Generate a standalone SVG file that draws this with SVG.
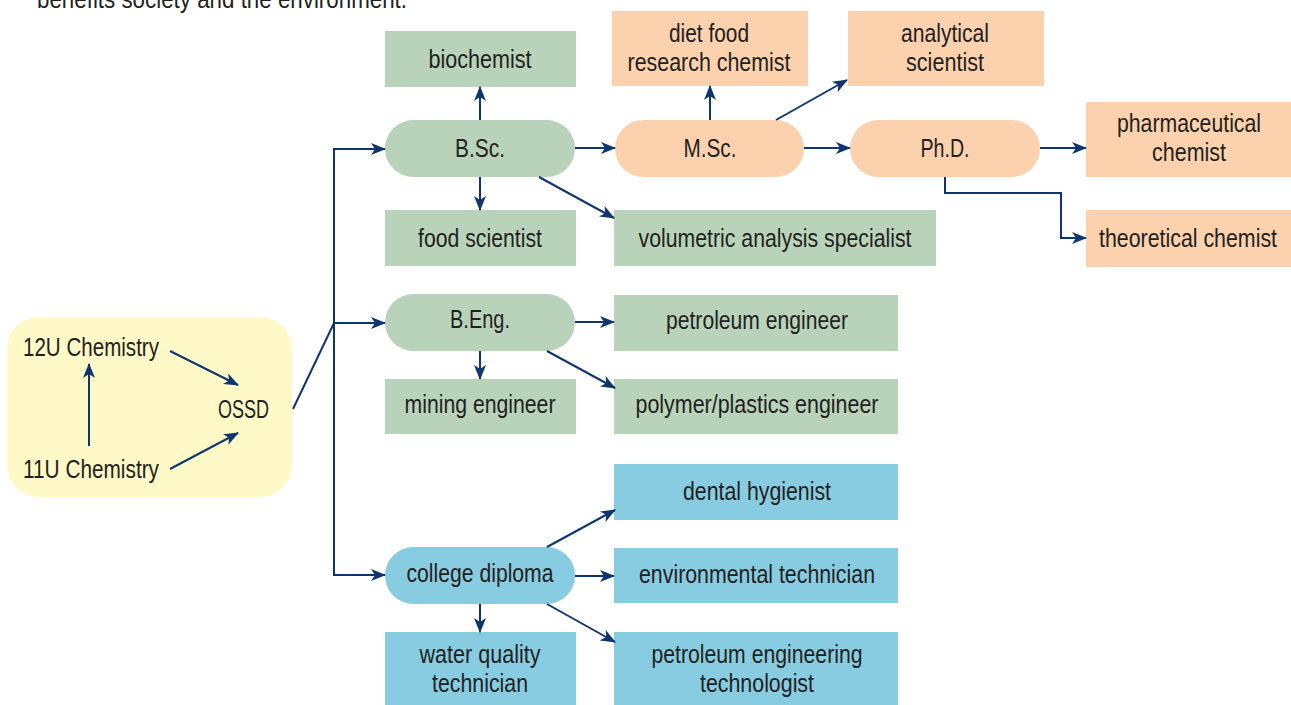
<svg xmlns="http://www.w3.org/2000/svg" width="1291" height="705" viewBox="0 0 1291 705">
<defs>
<style>
text{font-family:"Liberation Sans",Arial,sans-serif;font-size:25px;fill:#231f20;}
.m{text-anchor:middle;}
.g{fill:#b9d3bb;}
.p{fill:#fcd1ad;}
.b{fill:#88cce2;}
.y{fill:#fef9c6;}
.c{fill:none;stroke:#0e3570;stroke-width:2;}
.a{marker-end:url(#ah);}
</style>
<marker id="ah" markerUnits="userSpaceOnUse" markerWidth="15" markerHeight="12" refX="14" refY="6" orient="auto" viewBox="0 0 15 12">
<path d="M0,0 L15,6 L0,12 L4,6 z" fill="#0e3570"/>
</marker>
</defs>
<rect width="1291" height="705" fill="#ffffff"/>
<text x="37" y="8" textLength="370" lengthAdjust="spacingAndGlyphs">benefits society and the environment.</text>

<g id="highschool">
<rect class="y" x="7" y="317" width="285" height="180" rx="32"/>
<text x="23" y="356" textLength="136" lengthAdjust="spacingAndGlyphs">12U Chemistry</text>
<text x="23" y="478" textLength="136" lengthAdjust="spacingAndGlyphs">11U Chemistry</text>
<text x="218" y="418" textLength="51" lengthAdjust="spacingAndGlyphs">OSSD</text>
</g>

<g id="bsc"><rect class="g" x="385" y="120" width="190" height="57" rx="28.5"/><text class="m" x="480" y="157" textLength="50" lengthAdjust="spacingAndGlyphs">B.Sc.</text></g>
<g id="biochemist"><rect class="g" x="385" y="31" width="191" height="56"/><text class="m" x="480" y="68" textLength="103" lengthAdjust="spacingAndGlyphs">biochemist</text></g>
<g id="foodscientist"><rect class="g" x="385" y="210" width="191" height="56"/><text class="m" x="480" y="247" textLength="124" lengthAdjust="spacingAndGlyphs">food scientist</text></g>
<g id="volumetric"><rect class="g" x="614" y="210" width="322" height="56"/><text class="m" x="775" y="247" textLength="273" lengthAdjust="spacingAndGlyphs">volumetric analysis specialist</text></g>

<g id="msc"><rect class="p" x="615" y="120" width="189" height="57" rx="28.5"/><text class="m" x="710" y="157" textLength="53" lengthAdjust="spacingAndGlyphs">M.Sc.</text></g>
<g id="dietfood"><rect class="p" x="612" y="11" width="196" height="75"/><text class="m" x="709" y="42" textLength="80" lengthAdjust="spacingAndGlyphs">diet food</text><text class="m" x="709" y="71" textLength="163" lengthAdjust="spacingAndGlyphs">research chemist</text></g>
<g id="analytical"><rect class="p" x="848" y="11" width="196" height="75"/><text class="m" x="945" y="42" textLength="88" lengthAdjust="spacingAndGlyphs">analytical</text><text class="m" x="945" y="71" textLength="78" lengthAdjust="spacingAndGlyphs">scientist</text></g>
<g id="phd"><rect class="p" x="850" y="120" width="190" height="57" rx="28.5"/><text class="m" x="945" y="157" textLength="49" lengthAdjust="spacingAndGlyphs">Ph.D.</text></g>
<g id="pharmaceutical"><rect class="p" x="1086" y="102" width="205" height="75"/><text class="m" x="1189" y="132" textLength="144" lengthAdjust="spacingAndGlyphs">pharmaceutical</text><text class="m" x="1189" y="161" textLength="74" lengthAdjust="spacingAndGlyphs">chemist</text></g>
<g id="theoretical"><rect class="p" x="1086" y="210" width="205" height="57"/><text class="m" x="1188" y="247" textLength="178" lengthAdjust="spacingAndGlyphs">theoretical chemist</text></g>

<g id="beng"><rect class="g" x="385" y="294" width="190" height="57" rx="28.5"/><text class="m" x="480" y="328" textLength="60" lengthAdjust="spacingAndGlyphs">B.Eng.</text></g>
<g id="petroleum"><rect class="g" x="614" y="295" width="284" height="56"/><text class="m" x="757" y="329" textLength="182" lengthAdjust="spacingAndGlyphs">petroleum engineer</text></g>
<g id="mining"><rect class="g" x="385" y="379" width="191" height="55"/><text class="m" x="480" y="413" textLength="151" lengthAdjust="spacingAndGlyphs">mining engineer</text></g>
<g id="polymer"><rect class="g" x="614" y="379" width="284" height="55"/><text class="m" x="757" y="413" textLength="243" lengthAdjust="spacingAndGlyphs">polymer/plastics engineer</text></g>

<g id="college"><rect class="b" x="385" y="547" width="190" height="57" rx="28.5"/><text class="m" x="480" y="582" textLength="147" lengthAdjust="spacingAndGlyphs">college diploma</text></g>
<g id="dental"><rect class="b" x="614" y="464" width="284" height="56"/><text class="m" x="757" y="500" textLength="148" lengthAdjust="spacingAndGlyphs">dental hygienist</text></g>
<g id="environmental"><rect class="b" x="614" y="548" width="284" height="55"/><text class="m" x="757" y="583" textLength="236" lengthAdjust="spacingAndGlyphs">environmental technician</text></g>
<g id="water"><rect class="b" x="385" y="632" width="191" height="73"/><text class="m" x="480" y="663" textLength="121" lengthAdjust="spacingAndGlyphs">water quality</text><text class="m" x="480" y="692" textLength="96" lengthAdjust="spacingAndGlyphs">technician</text></g>
<g id="technologist"><rect class="b" x="614" y="632" width="284" height="73"/><text class="m" x="757" y="663" textLength="211" lengthAdjust="spacingAndGlyphs">petroleum engineering</text><text class="m" x="757" y="692" textLength="114" lengthAdjust="spacingAndGlyphs">technologist</text></g>

<g id="connectors">
<line class="c a" x1="170" y1="351" x2="238" y2="385"/>
<line class="c a" x1="170" y1="469" x2="238" y2="433"/>
<line class="c a" x1="89" y1="446" x2="89" y2="364"/>
<polyline class="c" points="293,409 334,323"/>
<line class="c" x1="334" y1="148" x2="334" y2="576"/>
<line class="c a" x1="334" y1="149" x2="385" y2="149"/>
<line class="c a" x1="334" y1="323" x2="385" y2="323"/>
<line class="c a" x1="334" y1="575" x2="385" y2="575"/>
<line class="c a" x1="480" y1="120" x2="480" y2="87"/>
<line class="c a" x1="480" y1="177" x2="480" y2="210"/>
<line class="c a" x1="575" y1="148" x2="615" y2="148"/>
<line class="c a" x1="539" y1="177" x2="614" y2="218"/>
<line class="c a" x1="710" y1="120" x2="710" y2="86"/>
<line class="c a" x1="776" y1="120" x2="847" y2="80"/>
<line class="c a" x1="804" y1="148" x2="850" y2="148"/>
<line class="c a" x1="1040" y1="148" x2="1086" y2="148"/>
<polyline class="c a" points="945,177 945,193 1061,193 1061,238 1086,238"/>
<line class="c a" x1="575" y1="322" x2="614" y2="322"/>
<line class="c a" x1="480" y1="351" x2="480" y2="379"/>
<line class="c a" x1="547" y1="351" x2="615" y2="388"/>
<line class="c a" x1="547" y1="547" x2="615" y2="510"/>
<line class="c a" x1="575" y1="576" x2="614" y2="576"/>
<line class="c a" x1="480" y1="604" x2="480" y2="632"/>
<line class="c a" x1="547" y1="604" x2="615" y2="642"/>
</g>
</svg>
